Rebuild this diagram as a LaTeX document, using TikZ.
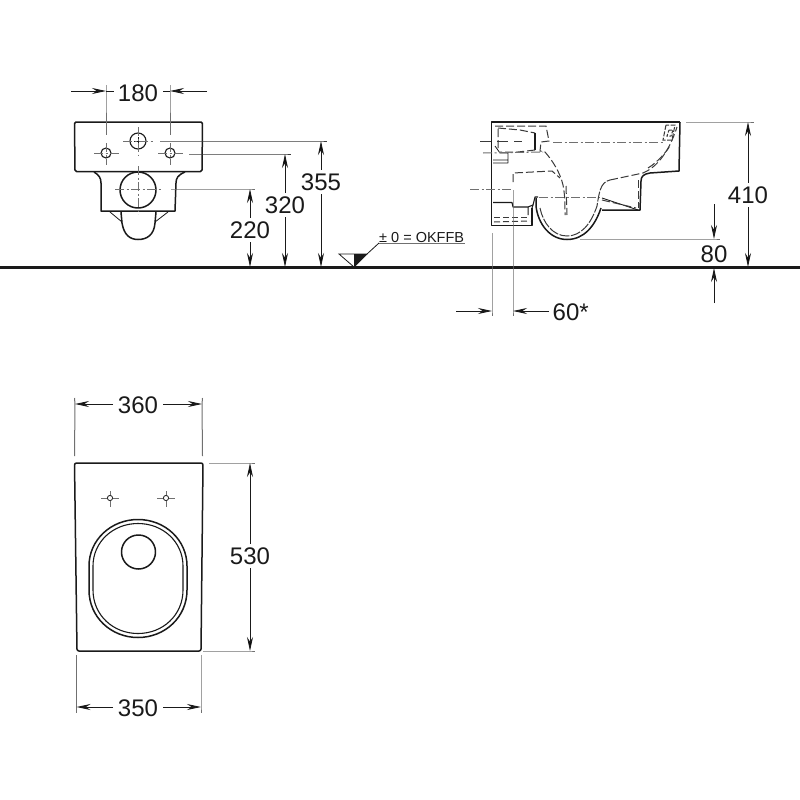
\documentclass[tikz,border=0pt]{standalone}
\usepackage{fontspec}
\setmainfont{Liberation Sans}
\usetikzlibrary{arrows.meta}
\definecolor{inkdark}{HTML}{1A1A1A}
\definecolor{inkmid}{HTML}{3A3A3A}
\definecolor{inkgray}{HTML}{707070}
\begin{document}
\begin{tikzpicture}[x=1pt,y=-1pt,>={Stealth[length=14pt,width=6pt]},
                    main line/.style={line width=1.5pt,draw=inkdark,line join=round},
                    thin line/.style={line width=0.8pt,draw=inkdark},
                    ext line/.style={line width=1pt,draw=inkgray},
                    hidden line/.style={line width=1pt,draw=inkmid,dash pattern=on 8pt off 3pt},
                    axis line/.style={line width=1pt,draw=inkgray,dash pattern=on 9pt off 2.5pt on 2pt off 2.5pt},
                    dim line/.style={line width=0.9pt,draw=inkdark},
                    dim text/.style={font=\fontsize{24}{24}\selectfont,text=inkdark,inner sep=3.5pt}]

  \fill[white] (0,0) rectangle (800,800);
  \useasboundingbox (0,0) rectangle (800,800);

  \draw[line width=2.2pt,draw=inkdark] (0,267.5) -- (800,267.5);

  \draw[main line,rounded corners=1.5pt] (74.5,122) -- (202.5,122) -- (202,171.5) -- (75,171.5) -- cycle;
  \draw[main line] (94,172) .. controls (99,175) and (101,178) .. (101,183) -- (101,211)
    -- (175,211) -- (176,183) .. controls (176,178) and (178,175) .. (185,172);
  \draw[main line] (138,190) circle (18);
  \draw[main line] (121,212) -- (122,223) .. controls (124,235) and (130,239.5) .. (138,239.5)
    .. controls (147,239.5) and (154,235) .. (155,223) -- (156,212);
  \draw[thin line] (110,212) -- (122,222) (168,212) -- (155,222);
  \draw[main line,line width=1.1pt] (138,141) circle (8);
  \draw[thin line] (134,141) -- (142,141) (138,137) -- (138,145);
  \foreach \cx in {106,170} {
    \draw[main line,line width=1.1pt] (\cx,153) circle (5);
    \draw[axis line] (\cx-12,153) -- (\cx+13,153) (\cx,143) -- (\cx,165);
  }
  \draw[axis line] (123,141) -- (154,141) (138,127) -- (138,156);
  \draw[axis line] (115,189.5) -- (162,189.5) (138,166) -- (138,214);

  \node[dim text] (t180) at (138,93) {180};
  \coordinate (a180) at (106,91);
  \coordinate (b180) at (170,91);
  \draw[ext line] (106,85) -- (a180) -- (106,135);
  \draw[ext line] (170,85) -- (b180) -- (170,135);
  \draw[dim line,->] (71,91) -- (a180);
  \draw[dim line,->] (207,91) -- (b180);
  \draw[dim line] (a180) -- (114,91) (163,91) -- (b180);

  \node[dim text] (t355) at (321,182) {355};
  \node[dim text] (t320) at (285,205) {320};
  \node[dim text] (t220) at (250,230) {220};
  \coordinate (a355) at (321,141);
  \coordinate (b355) at (321,267);
  \coordinate (a320) at (285,154);
  \coordinate (b320) at (285,267);
  \coordinate (a220) at (250,189);
  \coordinate (b220) at (250,267);
  \draw[ext line,draw=inkmid] (160,141) -- (a355) -- +(6,0);
  \draw[ext line,draw=inkmid] (189,154) -- (a320) -- +(6,0);
  \draw[ext line] (171,189) -- (a220) -- +(5,0);
  \path[dim line,every edge/.style={draw,->}]
    (t355) edge (a355)
           edge (b355)
    (t320) edge (a320)
           edge (b320)
    (t220) edge (a220)
           edge (b220);

  \fill[inkdark] (354,254) -- (367,254) -- (354,267) -- cycle;
  \draw[thin line] (339,254) -- (367,254) -- (354,267) -- cycle;
  \coordinate (s0) at (367,254);
  \coordinate (s1) at (379,243);
  \coordinate (s2) at (465,243);
  \draw[thin line] (s0) -- (s1);
  \draw[ext line] (s1) -- (s2);
  \node[anchor=south west,inner xsep=0pt,inner ysep=0.5pt,font=\fontsize{14.5}{14.5}\selectfont,text=inkdark] (t0) at (s1) {± 0 = OKFFB};

  \draw[main line] (680,122) -- (491.5,122) -- (491.5,225.5) -- (532,225.5) -- (532,208);
  \draw[main line] (680,122) -- (679,171) -- (650,173) .. controls (644,174) and (641,176) .. (641,181) -- (640,210) -- (602,210);
  \draw[main line] (536,198) -- (536,206) .. controls (538,224) and (550,239.5) .. (567,239.5)
    .. controls (584,239.5) and (595,226) .. (601,208);
  \draw[hidden line,dash pattern=on 10pt off 1.5pt] (540,208) .. controls (543,223) and (553,236) .. (567,236)
    .. controls (581,236) and (591,224) .. (597,206) .. controls (599,194) and (600,182) .. (610,180);
  \draw[thin line] (602,198) -- (638,210);
  \draw[hidden line] (602,200) -- (636,208);
  \draw[hidden line] (638,180) -- (638,208);
  \draw[hidden line] (610,180) -- (643,173) .. controls (655,168) and (668,155) .. (677,127);
  \draw[hidden line] (648,168) .. controls (658,162) and (666,152) .. (670,146);
  \draw[hidden line,dash pattern=on 5pt off 1.5pt] (666,125) -- (663,140) -- (672,140) -- (675,125) -- cycle;
  \draw[hidden line,dash pattern=on 3pt off 1.5pt] (669,130) -- (673,130) -- (671,136) -- (667,136) -- cycle;

  \draw[hidden line] (495,126) -- (546,126) -- (549,141) -- (541,142) -- (540,151) -- (545,152)
    .. controls (552,160) and (560,172) .. (563,185) .. controls (565,195) and (565,205) .. (565,215);
  \draw[hidden line] (566,186) -- (567,215);
  \draw[hidden line] (498,128) -- (520,130) -- (535,133);
  \draw[main line,line width=1.2pt] (535,133) -- (535,150);
  \draw[hidden line] (535,150) -- (518,152) -- (500,152) (498,148) -- (498,128);
  \draw[thin line] (495,146) -- (500,153) -- (508,153) -- (508,163) (493,160) -- (508,160) (493,163) -- (508,163);
  \draw[hidden line] (513,182) -- (513,173) -- (552,171) -- (560,178);
  \draw[main line,line width=1.1pt] (493,202.5) -- (512,202.5) -- (513,207) -- (528,207) -- (533,205) -- (535,197) -- (538,197);
  \draw[main line,line width=1pt] (528,207) -- (528,215) (532,208) -- (533,205);
  \draw[hidden line,dash pattern=on 6pt off 3pt] (494,217) -- (528,217);
  \draw[hidden line,dash pattern=on 6pt off 3pt] (494,222) -- (530,221);

  \draw[axis line] (553,142) -- (663,142);
  \draw[axis line] (539,197) -- (600,197);
  \draw[axis line] (470,189) -- (513,189);
  \draw[hidden line,dash pattern=on 11pt off 6pt] (480,141) -- (522,141);
  \draw[axis line] (483,153) -- (543,152);

  \node[dim text,anchor=west] (t60) at (549,312) {60*};
  \coordinate (a60) at (492,311);
  \coordinate (b60) at (513,311);
  \draw[ext line] (492,233) -- (a60) -- +(0,5);
  \draw[ext line] (513,190) -- (b60) -- +(0,5);
  \draw[dim line,->] (456,311) -- (a60);
  \draw[dim line,->] (549,311) -- (b60);

  \node[dim text] (t410) at (748,195) {410};
  \coordinate (a410) at (748,122);
  \coordinate (b410) at (748,267);
  \draw[ext line] (686,122) -- (a410) -- +(6,0);
  \path[dim line,every edge/.style={draw,->}]
    (t410) edge (a410)
           edge (b410);

  \node[dim text] (t80) at (714,254) {80};
  \coordinate (a80) at (714,239);
  \coordinate (b80) at (714,268);
  \draw[ext line] (580,239) -- (a80) -- +(6,0);
  \draw[dim line,->] (714,204) -- (a80);
  \draw[dim line,->] (714,303) -- (b80);

  \draw[main line,rounded corners=2pt] (74.5,463) -- (203,463) -- (201,651) -- (77,651) -- cycle;
  \draw[main line] (138,519.5) .. controls (165,519.5) and (187,540) .. (187,566) -- (187,590)
    .. controls (187,617) and (165,637.5) .. (138,637.5)
    .. controls (111,637.5) and (89,617) .. (89,590) -- (89,566)
    .. controls (89,540) and (111,519.5) .. (138,519.5) -- cycle;
  \draw[main line,line width=1.1pt] (138,523.5) .. controls (163,523.5) and (183,542) .. (183,566) -- (183,590)
    .. controls (183,615) and (163,633.5) .. (138,633.5)
    .. controls (113,633.5) and (93,615) .. (93,590) -- (93,566)
    .. controls (93,542) and (113,523.5) .. (138,523.5) -- cycle;
  \draw[main line] (138.5,552) circle (17);
  \foreach \cx in {110,166} {
    \draw[thin line] (\cx,498) circle (2.6);
    \draw[ext line] (\cx-9,498) -- (\cx-3,498) (\cx+3,498) -- (\cx+9,498) (\cx,491) -- (\cx,495) (\cx,501) -- (\cx,507);
  }

  \node[dim text] (t360) at (138,405) {360};
  \coordinate (a360) at (75,404);
  \coordinate (b360) at (202,404);
  \draw[ext line] (74.5,398) -- (a360) -- (74.5,456);
  \draw[ext line] (202.5,398) -- (b360) -- (202.5,456);
  \draw[dim line,->] (113,404) -- (a360);
  \draw[dim line,->] (163,404) -- (b360);

  \node[dim text] (t350) at (138,708) {350};
  \coordinate (a350) at (76.5,707);
  \coordinate (b350) at (201,707);
  \draw[ext line] (76.5,655) -- (a350) -- (76.5,713);
  \draw[ext line] (201,655) -- (b350) -- (201,713);
  \draw[dim line,->] (113,707) -- (a350);
  \draw[dim line,->] (163,707) -- (b350);

  \node[dim text] (t530) at (250,556) {530};
  \coordinate (a530) at (250,463);
  \coordinate (b530) at (250,651);
  \draw[ext line] (209,463) -- (a530) -- +(5,0);
  \draw[ext line] (203,651) -- (b530) -- +(5,0);
  \path[dim line,every edge/.style={draw,->}]
    (t530) edge (a530)
           edge (b530);
\end{tikzpicture}
\end{document}
